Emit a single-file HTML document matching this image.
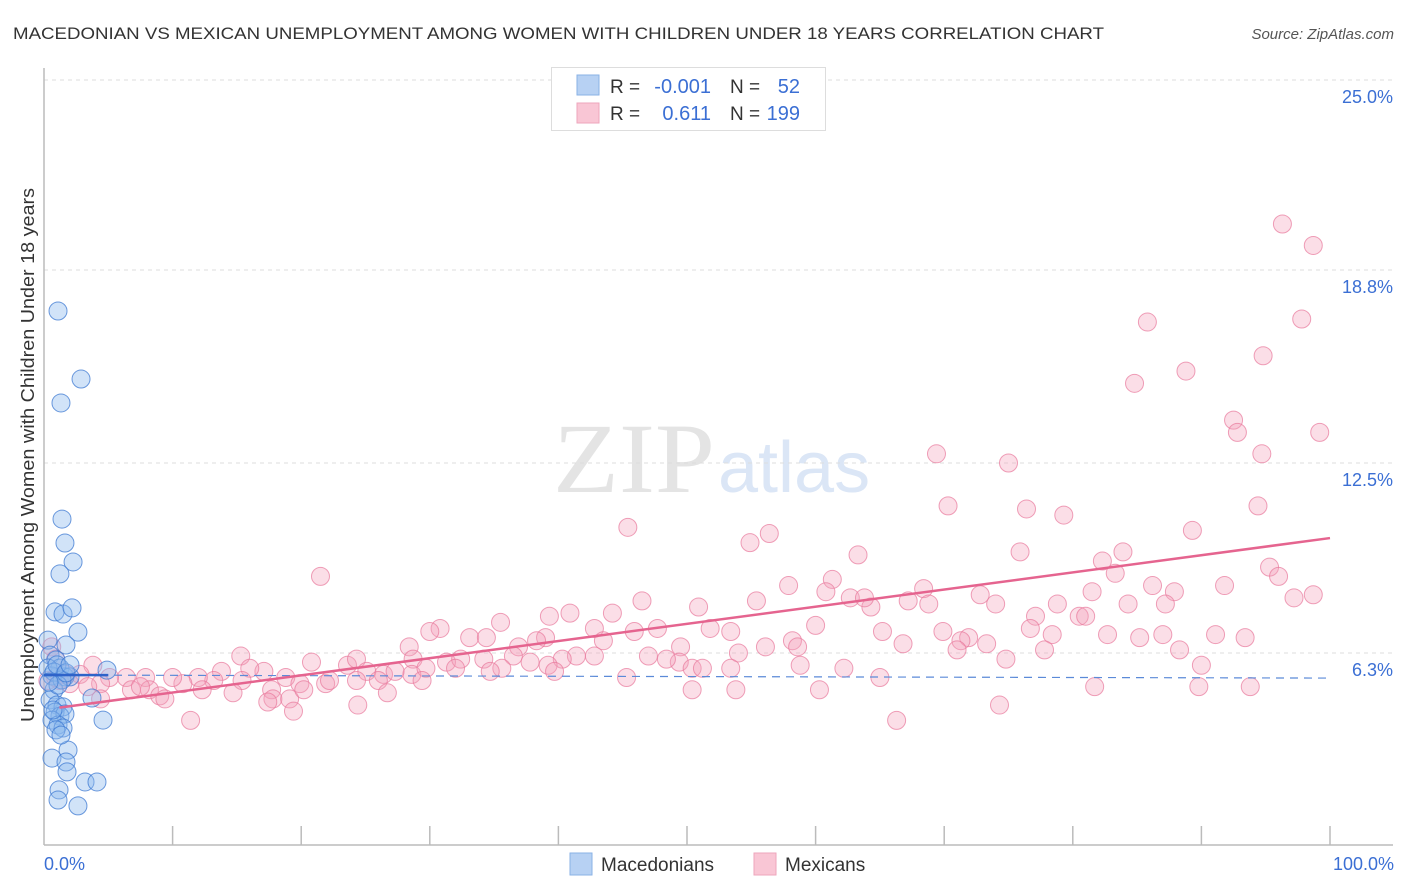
<!DOCTYPE html>
<html><head><meta charset="utf-8"><style>
body{margin:0;background:#fff;}
svg{display:block;font-family:"Liberation Sans",sans-serif;}
</style></head><body>
<svg id="chart" width="1406" height="892" viewBox="0 0 1406 892">
<text x="13" y="39" font-size="17" fill="#333" textLength="1091" lengthAdjust="spacingAndGlyphs">MACEDONIAN VS MEXICAN UNEMPLOYMENT AMONG WOMEN WITH CHILDREN UNDER 18 YEARS CORRELATION CHART</text>
<text x="1394" y="39" font-size="15" font-style="italic" fill="#555" text-anchor="end">Source: ZipAtlas.com</text>
<g>
<text x="553" y="492" font-family="Liberation Serif,serif" font-size="100" fill="#e4e4e4" textLength="162" lengthAdjust="spacingAndGlyphs">ZIP</text>
<text x="718" y="492" font-size="72" fill="#dbe6f6">atlas</text>
</g>
<g id="grid"></g>
<g id="axes"></g>
<g id="pts"></g>
<g id="trends"></g>
<text transform="translate(34,455) rotate(-90)" font-size="18" fill="#333" text-anchor="middle" textLength="534" lengthAdjust="spacingAndGlyphs">Unemployment Among Women with Children Under 18 years</text>
<g>
<rect x="551.5" y="67.5" width="274" height="63" fill="#fff" stroke="#ddd"/>
<rect x="577" y="75" width="22" height="20" fill="#b7d1f3" stroke="#8ab2e6"/>
<rect x="577" y="103" width="22" height="20" fill="#f9c6d5" stroke="#eea6bc"/>
<text x="610" y="93" font-size="19" fill="#333">R = </text><text x="711" y="93" font-size="20" fill="#3b6fd4" text-anchor="end">-0.001</text>
<text x="730" y="93" font-size="19" fill="#333">N = </text><text x="800" y="93" font-size="20" fill="#3b6fd4" text-anchor="end">52</text>
<text x="610" y="120" font-size="19" fill="#333">R = </text><text x="711" y="120" font-size="20" fill="#3b6fd4" text-anchor="end">0.611</text>
<text x="730" y="120" font-size="19" fill="#333">N = </text><text x="800" y="120" font-size="20" fill="#3b6fd4" text-anchor="end">199</text>
</g>
<g>
<rect x="570" y="853" width="22" height="22" fill="#b7d1f3" stroke="#8ab2e6"/>
<text x="601" y="871" font-size="19" fill="#333">Macedonians</text>
<rect x="754" y="853" width="22" height="22" fill="#f9c6d5" stroke="#eea6bc"/>
<text x="785" y="871" font-size="19" fill="#333">Mexicans</text>
</g>
</svg>
<script>
const yTicks=[25.0,18.8,12.5,6.3];
const yTickLabels=["25.0%","18.8%","12.5%","6.3%"];
const xTickLabels=["0.0%","100.0%"];
const macX=[1.09,2.88,1.32,1.40,1.63,2.26,1.24,0.86,1.48,2.18,2.64,1.71,0.31,0.47,0.93,1.24,0.62,1.63,2.02,4.90,0.78,0.47,1.01,1.48,0.86,1.24,1.63,0.62,1.09,1.48,0.93,3.73,4.59,1.87,0.62,1.71,1.79,3.19,4.12,1.17,1.09,2.64,0.31,0.78,1.40,1.09,0.39,0.70,1.32,1.01,1.71,2.02];
const macY=[17.46,15.24,14.46,10.67,9.89,9.27,8.88,7.64,7.57,7.77,6.98,6.56,6.72,6.23,6.07,5.81,5.55,5.52,5.52,5.74,5.09,4.77,4.60,4.54,4.37,4.24,4.31,4.11,3.95,3.85,3.79,4.83,4.11,3.13,2.87,2.74,2.42,2.09,2.09,1.83,1.50,1.31,5.81,5.68,5.42,5.25,5.35,4.44,3.62,5.91,5.65,5.91];
const mexX=[96.3,98.7,85.8,97.8,94.8,84.8,88.8,92.5,92.8,99.2,94.7,69.4,75.0,70.3,76.4,79.3,94.4,89.3,45.4,56.4,54.9,63.3,75.9,83.9,82.3,95.3,96.0,83.3,61.3,21.5,57.9,68.4,91.8,86.2,81.5,87.9,98.7,97.2,72.8,60.8,62.7,67.2,68.8,64.3,63.8,74.0,78.8,84.3,87.2,50.9,55.4,46.5,44.2,40.9,39.3,35.5,77.1,80.5,81.0,60.0,76.7,65.2,82.7,85.2,87.0,91.1,93.4,69.9,71.9,71.3,73.3,78.4,30.8,30.0,33.1,34.4,39.0,38.3,36.9,42.8,43.5,45.9,47.7,49.5,51.8,53.4,56.1,58.2,58.6,66.8,54.0,49.4,47.0,48.4,41.4,40.3,42.8,28.4,28.7,31.3,32.4,34.2,36.5,37.8,39.2,39.7,35.6,34.7,28.6,26.4,29.7,27.3,23.6,24.3,25.1,20.8,18.8,17.1,15.3,16.0,15.4,13.8,13.2,12.0,10.8,10.0,7.9,6.4,5.1,3.8,2.8,1.7,1.2,2.0,0.9,4.4,3.4,6.8,8.2,7.5,9.0,9.4,12.3,14.7,17.7,19.9,21.9,22.2,24.3,26.0,26.7,29.4,32.0,17.8,19.1,20.2,17.4,19.4,24.4,11.4,4.4,45.3,50.4,51.2,53.4,62.2,65.0,50.4,53.8,60.3,71.0,74.8,77.8,88.3,90.0,81.7,89.8,93.8,74.3,66.3,58.8,0.6,0.3,0.9];
const mexY=[20.3,19.6,17.1,17.2,16.0,15.1,15.5,13.9,13.5,13.5,12.8,12.8,12.5,11.1,11.0,10.8,11.1,10.3,10.4,10.2,9.9,9.5,9.6,9.6,9.3,9.1,8.8,8.9,8.7,8.8,8.5,8.4,8.5,8.5,8.3,8.3,8.2,8.1,8.2,8.3,8.1,8.0,7.9,7.8,8.1,7.9,7.9,7.9,7.9,7.8,8.0,8.0,7.6,7.6,7.5,7.3,7.5,7.5,7.5,7.2,7.1,7.0,6.9,6.8,6.9,6.9,6.8,7.0,6.8,6.7,6.6,6.9,7.1,7.0,6.8,6.8,6.8,6.7,6.5,7.1,6.7,7.0,7.1,6.5,7.1,7.0,6.5,6.7,6.5,6.6,6.3,6.0,6.2,6.1,6.2,6.1,6.2,6.5,6.1,6.0,6.1,6.1,6.2,6.0,5.9,5.7,5.8,5.7,5.6,5.6,5.8,5.7,5.9,6.1,5.7,6.0,5.5,5.7,6.2,5.8,5.4,5.7,5.4,5.5,5.3,5.5,5.5,5.5,5.5,5.9,5.6,5.6,5.4,5.3,5.5,5.3,5.2,5.1,5.1,5.2,4.9,4.8,5.1,5.0,5.1,5.3,5.3,5.4,5.4,5.4,5.0,5.4,5.8,4.8,4.8,5.1,4.7,4.4,4.6,4.1,4.8,5.5,5.8,5.8,5.8,5.8,5.5,5.1,5.1,5.1,6.4,6.1,6.4,6.4,5.9,5.2,5.2,5.2,4.6,4.1,5.9,6.5,5.4,6.1];
const macTrend=[5.58,5.48];
const mexTrend=[4.45,10.05];
const NS="http://www.w3.org/2000/svg";
function xs(v){return 44+v*12.86;}
function ys(v){return 846-v*30.64;}
function mk(tag,attrs,parent){const e=document.createElementNS(NS,tag);for(const k in attrs)e.setAttribute(k,attrs[k]);parent.appendChild(e);return e;}
const grid=document.getElementById('grid'),axes=document.getElementById('axes'),pts=document.getElementById('pts'),tr=document.getElementById('trends');
yTicks.forEach((t,i)=>{
  const l=mk('line',{x1:44,x2:1393,y1:ys(t),y2:ys(t),stroke:'#ddd','stroke-dasharray':'4,4'},grid);
  
  
  const tx=mk('text',{x:1393,y:ys(t)+23,'font-size':18,fill:'#3b6fd4','text-anchor':'end'},axes);
  tx.textContent=yTickLabels[i];
  
  
});
mk('line',{x1:44,x2:44,y1:68,y2:845,stroke:'#bbb','stroke-width':1.5},axes);
mk('line',{x1:44,x2:1393,y1:845,y2:845,stroke:'#bbb','stroke-width':1.5},axes);
for(let i=1;i<=10;i++){const x=xs(i*10);mk('line',{x1:x,x2:x,y1:826,y2:845,stroke:'#bbb','stroke-width':1.5},axes);}
const xl0=mk('text',{x:44,y:870,'font-size':18,fill:'#3b6fd4'},axes);xl0.textContent=xTickLabels[0];


const xl1=mk('text',{x:1394,y:870,'font-size':18,fill:'#3b6fd4','text-anchor':'end'},axes);xl1.textContent=xTickLabels[1];


mexX.forEach((x,i)=>{
  const c=mk('circle',{cx:xs(x),cy:ys(mexY[i]),r:9,fill:'rgba(244,160,186,0.35)',stroke:'rgba(232,120,155,0.7)','stroke-width':1},pts);
  
  
});
macX.forEach((x,i)=>{
  const c=mk('circle',{cx:xs(x),cy:ys(macY[i]),r:9,fill:'rgba(140,185,238,0.4)',stroke:'rgba(60,120,210,0.75)','stroke-width':1},pts);
  
  
});
const mt=mk('line',{x1:xs(0),y1:ys(macTrend[0]),x2:xs(100),y2:ys(macTrend[1]),stroke:'#5b8ad8','stroke-width':1.2,'stroke-dasharray':'8,6'},tr);


const ms=mk('line',{x1:xs(0),y1:ys(macTrend[0]),x2:xs(5),y2:ys(macTrend[0]+(macTrend[1]-macTrend[0])*0.05),stroke:'#2f63c9','stroke-width':2.5},tr);


const xt=mk('line',{x1:xs(1.2),y1:ys(mexTrend[0]+(mexTrend[1]-mexTrend[0])*0.012),x2:xs(100),y2:ys(mexTrend[1]),stroke:'#e5648f','stroke-width':2.5},tr);


</script>
</body></html>
